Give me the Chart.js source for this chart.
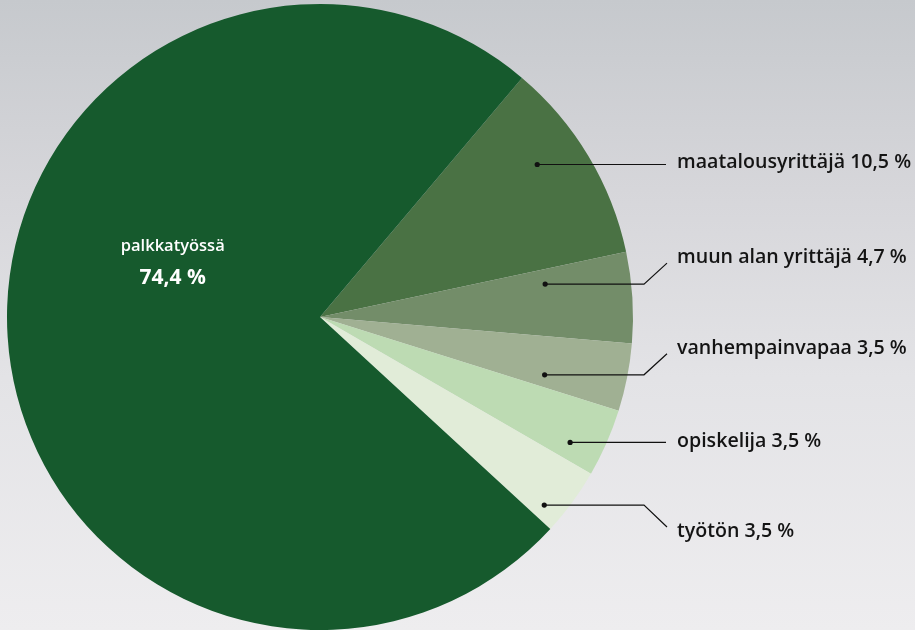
<!DOCTYPE html>
<html>
<head>
<meta charset="utf-8">
<script src="https://cdn.jsdelivr.net/npm/chart.js@4/dist/chart.umd.min.js"></script>
<style>
  html, body { margin: 0; padding: 0; }
  body {
    width: 915px; height: 630px; overflow: hidden;
    background: linear-gradient(180deg, #c6c9cd 0%, #d6d6da 30%, #e3e3e6 60%, #eeedef 100%);
  }
  #wrap { position: relative; width: 915px; height: 630px; }
</style>
</head>
<body>
<div id="wrap"><canvas id="c" width="915" height="630"></canvas></div>
<script>
const categories = ['maatalousyrittäjä', 'muun alan yrittäjä', 'vanhempainvapaa', 'opiskelija', 'työtön', 'palkkatyössä'];
const values = [10.5, 4.7, 3.5, 3.5, 3.5, 74.4];
const valueLabels = ['10,5 %', '4,7 %', '3,5 %', '3,5 %', '3,5 %', '74,4 %'];
const colors = ['#4a7244', '#738d69', '#a0b093', '#bddbb3', '#e1ecd8', '#165a2d'];

// label layout (style only): angle fraction within slice, radius fraction, text y, bend type
const labelLayout = [
  { af: 0.39, rf: 0.848, ty: 162, bend: 0 },
  { af: 0.22, rf: 0.727, ty: 257, bend: -1 },
  { af: 0.76, rf: 0.741, ty: 348, bend: -1 },
  { af: 0.73, rf: 0.894, ty: 441, bend: 0 },
  { af: 0.79, rf: 0.935, ty: 531, bend: 1 },
  { af: 0.593, rf: 0.505, inside: true }
];

const labelPlugin = {
  id: 'labels',
  afterDatasetsDraw(chart) {
    const ctx = chart.ctx;
    const meta = chart.getDatasetMeta(0);
    const FONT = '"Open Sans", "Noto Sans", sans-serif';
    meta.data.forEach((arc, i) => {
      const L = labelLayout[i];
      const a = arc.startAngle + (arc.endAngle - arc.startAngle) * L.af;
      const r = arc.outerRadius * L.rf;
      const px = arc.x + Math.cos(a) * r;
      const py = arc.y + Math.sin(a) * r;
      ctx.save();
      if (L.inside) {
        ctx.fillStyle = '#ffffff';
        ctx.textAlign = 'center';
        ctx.textBaseline = 'middle';
        ctx.font = '600 16.5px ' + FONT;
        ctx.fillText(categories[i], px, py - 13);
        ctx.font = '700 21px ' + FONT;
        ctx.fillText(valueLabels[i], px, py + 18);
        ctx.restore();
        return;
      }
      const textX = 677;
      ctx.strokeStyle = '#111';
      ctx.fillStyle = '#111';
      ctx.lineWidth = 1.2;
      ctx.beginPath();
      ctx.moveTo(px, py);
      if (L.bend === 0) {
        ctx.lineTo(666, py);
      } else {
        ctx.lineTo(644, py);
        ctx.lineTo(667, py + (L.bend < 0 ? -21 : 22));
      }
      ctx.stroke();
      ctx.beginPath();
      ctx.arc(px, py, 2.6, 0, Math.PI * 2);
      ctx.fill();
      ctx.font = '600 19.6px ' + FONT;
      ctx.textAlign = 'left';
      ctx.textBaseline = 'middle';
      ctx.fillStyle = '#141414';
      ctx.fillText(categories[i] + ' ' + valueLabels[i], textX, L.ty);
      ctx.restore();
    });
  }
};

new Chart(document.getElementById('c'), {
  type: 'pie',
  data: {
    labels: categories,
    datasets: [{
      data: values,
      backgroundColor: colors,
      borderWidth: 0,
      hoverOffset: 0
    }]
  },
  options: {
    responsive: false,
    animation: false,
    rotation: 40.2,
    layout: { padding: { left: 7, right: 282, top: 4, bottom: 0 } },
    plugins: { legend: { display: false }, tooltip: { enabled: false } },
    events: []
  },
  plugins: [labelPlugin]
});
</script>
</body>
</html>
